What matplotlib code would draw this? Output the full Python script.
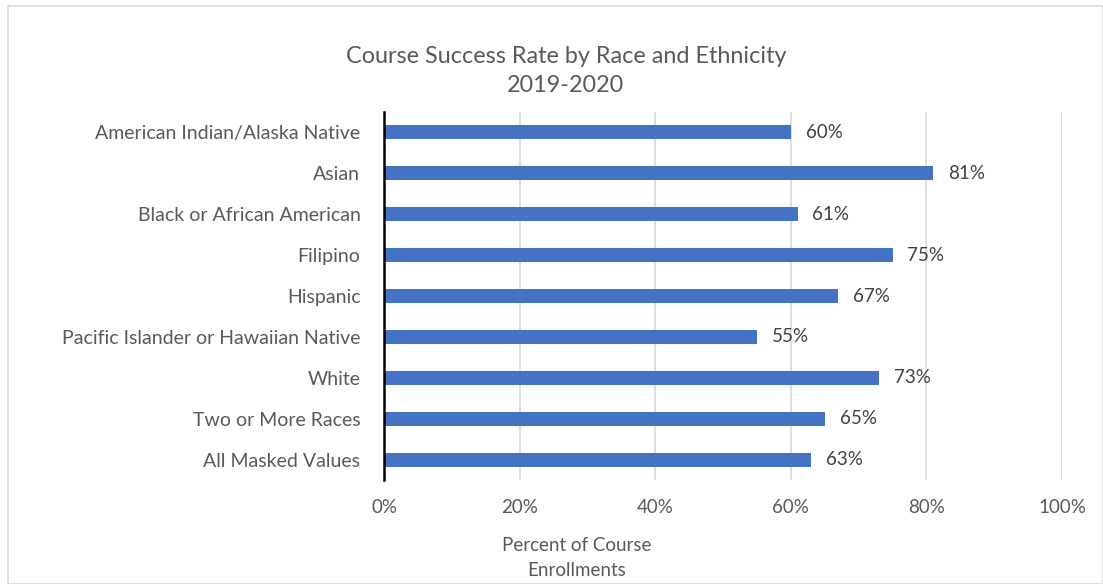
import matplotlib.pyplot as plt
import numpy as np
from matplotlib.patches import Rectangle

groups = ['American Indian/Alaska Native', 'Asian', 'Black or African American', 'Filipino',
          'Hispanic', 'Pacific Islander or Hawaiian Native', 'White', 'Two or More Races',
          'All Masked Values']
rates = [60, 81, 61, 75, 67, 55, 73, 65, 63]
ticks = [0, 20, 40, 60, 80, 100]

plt.rcParams['font.family'] = ['Lato', 'DejaVu Sans']
grey = '#595959'

fig = plt.figure(figsize=(11.03, 5.84), dpi=100)
fig.patches.append(Rectangle((8/1103, 0), 1 - 8/1103, 1 - 6/584, transform=fig.transFigure,
                             fill=False, edgecolor='#d9d9d9', linewidth=1.2))
ax = fig.add_axes([384/1103, 1 - 480/584, (1062-384)/1103, (480-112)/584])

y = np.arange(len(groups))
ax.barh(y, rates, height=0.34, color='#4472C4', zorder=3)
for yi, r in zip(y, rates):
    ax.text(r + 2.2, yi, f'{r}%', va='center', ha='left', fontsize=13.5, color='#404040')

ax.set_ylim(len(groups) - 0.5, -0.5)
ax.set_xlim(0, 100)
ax.set_yticks(y)
ax.set_yticklabels(groups, fontsize=14, color=grey)
ax.set_xticks(ticks)
ax.set_xticklabels([f'{t}%' for t in ticks], fontsize=13.5, color=grey)
ax.tick_params(axis='y', length=0, pad=17)
ax.tick_params(axis='x', length=0, pad=14)
ax.grid(axis='x', color='#d9d9d9', linewidth=1.2, zorder=0)
for s in ['top', 'right', 'bottom']:
    ax.spines[s].set_visible(False)
ax.spines['left'].set_color('black')
ax.spines['left'].set_linewidth(1.8)
ax.spines['left'].set_zorder(4)

fig.text(566/1103, 1 - 71/584, 'Course Success Rate by Race and Ethnicity\n2019-2020',
         ha='center', va='center', fontsize=16.8, color=grey, linespacing=1.5)
fig.text(577/1103, 1 - 558/584, 'Percent of Course\nEnrollments',
         ha='center', va='center', fontsize=13.5, color=grey, linespacing=1.6)

fig.savefig('out.png', dpi=100)
